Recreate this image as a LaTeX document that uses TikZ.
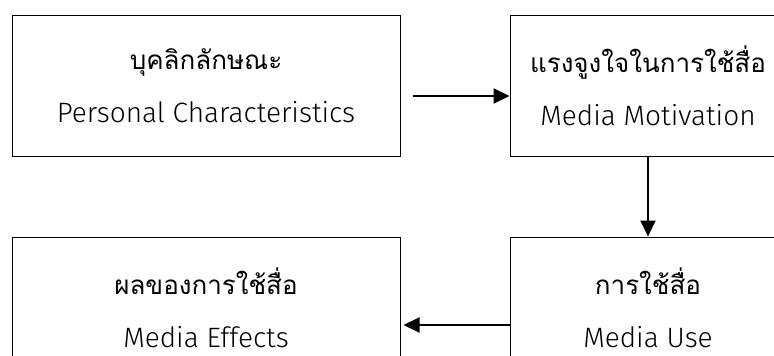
\documentclass[tikz,border=0pt]{standalone}
\usepackage{fontspec}
\setmainfont{Fira Sans Light}
\newfontfamily\thaifont[Script=Thai]{Loma}
\usetikzlibrary{arrows.meta}

\begin{document}
\begin{tikzpicture}[x=1pt,y=-1pt]
		\useasboundingbox (0,0) rectangle (774,356);
		\tikzstyle{every node}+=[draw,line width=1pt,minimum width=388pt,minimum height=141pt,inner sep=0pt,align=center,font=\fontsize{28}{53}\selectfont]
		\node (pc) at (206,85.5) {{\thaifont\fontsize{26}{53}\selectfont บุคลิกลักษณะ}\\Personal Characteristics};
		\node[minimum width=276pt] (mot) at (648,85.5) {{\thaifont\fontsize{26}{53}\selectfont แรงจูงใจในการใช้สื่อ}\\Media Motivation};
		\node[minimum width=276pt] (use) at (648,307.5) {{\thaifont\fontsize{26}{53}\selectfont การใช้สื่อ}\\Media Use};
		\node (eff) at (206,307.5) {{\thaifont\fontsize{26}{53}\selectfont ผลของการใช้สื่อ}\\Media Effects};
		\tikzstyle{every edge}+=[-{Triangle[length=16pt,width=15pt]},line width=2pt]
		\draw ([xshift=12pt,yshift=-10.5pt]pc.east) edge ([yshift=-10.5pt]mot.west)
		(mot.south) edge (use.north)
		([yshift=-17.5pt]use.west) edge ([xshift=3pt,yshift=-17.5pt]eff.east);
		\end{tikzpicture}
\end{document}
